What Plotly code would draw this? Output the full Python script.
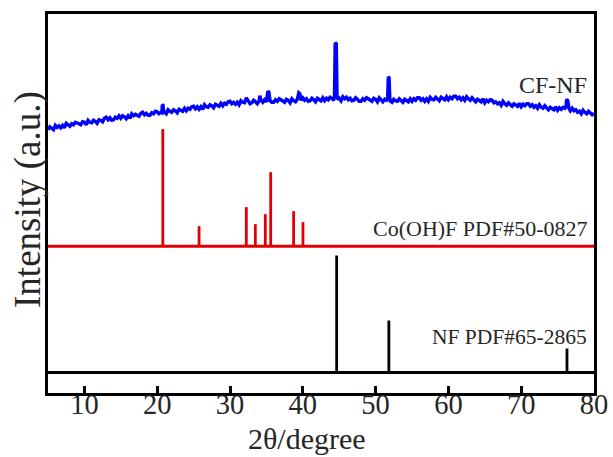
import plotly.graph_objects as go

# ---------------- data ----------------
# CF-NF measured pattern (2theta in degrees, intensity in a.u. incl. stacking offset)
cf_nf_2theta = [
    5.0, 5.25, 5.5, 5.75,
    6.0, 6.25, 6.5, 6.75,
    7.0, 7.25, 7.5, 7.75,
    8.0, 8.25, 8.5, 8.75,
    9.0, 9.25, 9.5, 9.75,
    10.0, 10.25, 10.5, 10.75,
    11.0, 11.25, 11.5, 11.75,
    12.0, 12.25, 12.5, 12.75,
    13.0, 13.25, 13.5, 13.75,
    14.0, 14.25, 14.5, 14.75,
    15.0, 15.25, 15.5, 15.75,
    16.0, 16.25, 16.5, 16.75,
    17.0, 17.25, 17.5, 17.75,
    18.0, 18.25, 18.5, 18.75,
    19.0, 19.25, 19.5, 19.75,
    20.0, 20.25, 20.5, 20.65, 20.7, 20.8, 20.9,
    21.0, 21.25, 21.5, 21.75,
    22.0, 22.25, 22.5, 22.75,
    23.0, 23.25, 23.5, 23.75,
    24.0, 24.25, 24.5, 24.75,
    25.0, 25.25, 25.5, 25.75,
    26.0, 26.25, 26.5, 26.75,
    27.0, 27.25, 27.5, 27.75,
    28.0, 28.25, 28.5, 28.75,
    29.0, 29.25, 29.5, 29.75,
    30.0, 30.25, 30.5, 30.75,
    31.0, 31.25, 31.5, 31.75,
    32.0, 32.25, 32.35, 32.5, 32.75,
    33.0, 33.25, 33.5, 33.75,
    34.0, 34.1, 34.25, 34.5, 34.75,
    35.0, 35.2, 35.35, 35.5, 35.75,
    36.0, 36.25, 36.5, 36.75,
    37.0, 37.25, 37.5, 37.75,
    38.0, 38.25, 38.5, 38.75,
    39.0, 39.25, 39.45, 39.6, 39.75,
    40.0, 40.25, 40.5, 40.75,
    41.0, 41.25, 41.5, 41.75,
    42.0, 42.25, 42.5, 42.75,
    43.0, 43.25, 43.5, 43.75,
    44.0, 44.25, 44.35, 44.45, 44.6, 44.7, 44.85,
    45.0, 45.25, 45.5, 45.75,
    46.0, 46.25, 46.5, 46.75,
    47.0, 47.25, 47.5, 47.75,
    48.0, 48.25, 48.5, 48.75,
    49.0, 49.25, 49.5, 49.75,
    50.0, 50.25, 50.5, 50.75,
    51.0, 51.25, 51.5, 51.65, 51.75, 51.85, 51.95,
    52.0, 52.25, 52.5, 52.75,
    53.0, 53.25, 53.5, 53.75,
    54.0, 54.25, 54.5, 54.75,
    55.0, 55.25, 55.5, 55.75,
    56.0, 56.25, 56.5, 56.75,
    57.0, 57.25, 57.5, 57.75,
    58.0, 58.25, 58.5, 58.75,
    59.0, 59.25, 59.5, 59.75,
    60.0, 60.25, 60.5, 60.75,
    61.0, 61.25, 61.5, 61.75,
    62.0, 62.25, 62.5, 62.75,
    63.0, 63.25, 63.5, 63.75,
    64.0, 64.25, 64.5, 64.75,
    65.0, 65.25, 65.5, 65.75,
    66.0, 66.25, 66.5, 66.75,
    67.0, 67.25, 67.5, 67.75,
    68.0, 68.25, 68.5, 68.75,
    69.0, 69.25, 69.5, 69.75,
    70.0, 70.25, 70.5, 70.75,
    71.0, 71.25, 71.5, 71.75,
    72.0, 72.25, 72.5, 72.75,
    73.0, 73.25, 73.5, 73.75,
    74.0, 74.25, 74.5, 74.75,
    75.0, 75.25, 75.5, 75.75,
    76.0, 76.15, 76.25, 76.4, 76.55, 76.75,
    77.0, 77.25, 77.5, 77.75,
    78.0, 78.25, 78.5, 78.75,
    79.0, 79.25, 79.5, 79.75,
    80.0,
]
cf_nf_intensity = [
    263, 266, 264.5, 263,
    267.5, 265.5, 267, 265,
    267.5, 265, 269.5, 267.5,
    266.5, 269, 268, 270.5,
    270, 269, 268, 271,
    270.5, 268, 272.5, 270.5,
    270, 272.5, 271.5, 269.5,
    273, 272.5, 271, 274.5,
    275.5, 273, 275, 272.5,
    273, 275.5, 274.5, 277,
    274.5, 277, 276, 274,
    277, 274.5, 279, 277,
    278.5, 277.5, 276.5, 279.5,
    280.5, 278, 279.5, 277.5,
    277.5, 280, 279, 281.5,
    281, 279, 280.5, 280, 288, 287.5, 281,
    281, 279, 283, 281.5,
    280.5, 283, 282, 280,
    283.5, 282.5, 281.5, 284.5,
    282, 284.5, 283.5, 286,
    286.5, 284, 286, 283.5,
    286, 283.5, 288, 286,
    285.5, 288, 287, 285,
    288.5, 287.5, 286.5, 289.5,
    287, 289.5, 288.5, 291,
    291.5, 289, 290.5, 288.5,
    290.5, 288, 292, 290.5,
    290, 295, 294, 291.5, 289,
    290, 292.5, 291, 289,
    292, 297, 292.5, 290.5, 293,
    291, 301.5, 300.5, 292, 290.5,
    290.5, 293, 291.5, 294,
    293, 292, 290.5, 293.5,
    292.5, 290, 294, 292,
    291, 293.5, 300, 299, 292.5,
    295, 292.5, 294, 291.5,
    292, 294.5, 293, 291,
    294.5, 293.5, 292, 295,
    292, 294.5, 293, 295.5,
    294.5, 292.5, 296, 350, 349, 297, 293,
    294.5, 292, 296, 294,
    295.5, 293, 294.5, 292,
    292.5, 295, 293.5, 291.5,
    291.5, 294, 292.5, 295,
    294, 293, 291.5, 294.5,
    293.5, 291, 295, 293,
    291, 293.5, 292.5, 294, 316, 315, 295,
    292, 290.5, 293.5, 292,
    291.5, 294, 292.5, 290.5,
    293.5, 292.5, 291, 294,
    291.5, 294, 292.5, 295,
    295, 292.5, 294, 291.5,
    294, 291.5, 295.5, 293.5,
    293, 295.5, 294, 292,
    295.5, 294.5, 293, 296,
    293, 295.5, 294, 296.5,
    296.5, 294, 295.5, 293,
    295, 292.5, 296, 294,
    292.5, 295, 293, 291,
    293.5, 292.5, 291, 294,
    290, 292.5, 291, 293,
    292.5, 290, 291, 289,
    290, 287.5, 291.5, 289,
    287.5, 290, 288.5, 286.5,
    289, 288, 286.5, 289.5,
    286, 288.5, 287, 289,
    289, 286.5, 288, 285.5,
    287, 284.5, 288, 285.5,
    284.5, 287, 285, 283,
    285.5, 284.5, 283, 286,
    282.5, 285, 283.5, 285.5,
    284.5, 286, 293.5, 292, 284.5, 282,
    284.5, 282, 283, 280.5,
    281.5, 279, 282.5, 280.5,
    279, 281.5, 280, 278,
    279.5,
]
assert len(cf_nf_2theta) == len(cf_nf_intensity)

# Co(OH)F reference card PDF#50-0827
cooh_f_2theta = [20.77, 25.75, 32.24, 33.48, 34.85, 35.59, 38.74, 40.02]
cooh_f_intensity = [117, 20, 39, 22, 32, 74, 35, 24]
cooh_f_offset = 146.7

# Ni reference card PDF#65-2865
nf_2theta = [44.65, 51.82, 76.29]
nf_intensity = [117, 52, 24]
nf_offset = 20.4

x_ticks = [10, 20, 30, 40, 50, 60, 70, 80]

# ---------------- figure ----------------
FONT = "Liberation Serif"
TXT = "#262626"
fig = go.Figure()

fig.add_trace(go.Scatter(x=cf_nf_2theta, y=cf_nf_intensity, mode="lines",
                         line=dict(color="#0000FF", width=3.4), hoverinfo="skip"))


def stick_trace(xs, hs, base, color, width):
    sx, sy = [], []
    for x, h in zip(xs, hs):
        sx += [x, x, None]
        sy += [base, base + h, None]
    return go.Scatter(x=sx, y=sy, mode="lines", line=dict(color=color, width=width),
                      hoverinfo="skip")


fig.add_trace(go.Scatter(x=[5, 80], y=[cooh_f_offset, cooh_f_offset], mode="lines",
                         line=dict(color="#E00000", width=3), hoverinfo="skip"))
fig.add_trace(stick_trace(cooh_f_2theta, cooh_f_intensity, cooh_f_offset, "#E00000", 2.8))
fig.add_trace(go.Scatter(x=[5, 80], y=[nf_offset, nf_offset], mode="lines",
                         line=dict(color="#000000", width=3), hoverinfo="skip"))
fig.add_trace(stick_trace(nf_2theta, nf_intensity, nf_offset, "#000000", 2.8))

fig.add_annotation(text="CF-NF", x=0.99, y=308, xref="paper", yref="y",
                   xanchor="right", yanchor="middle", showarrow=False,
                   font=dict(family=FONT, size=24, color=TXT))
fig.add_annotation(text="Co(OH)F PDF#50-0827", x=0.993, y=cooh_f_offset + 3,
                   xref="paper", yref="y", xanchor="right", yanchor="bottom",
                   showarrow=False, font=dict(family=FONT, size=22, color=TXT))
fig.add_annotation(text="NF PDF#65-2865", x=0.99, y=56, xref="paper", yref="y",
                   xanchor="right", yanchor="middle", showarrow=False,
                   font=dict(family=FONT, size=21.5, color=TXT))

# axis titles
fig.add_annotation(text="2θ/degree", x=0.474, y=-0.1205, xref="paper", yref="paper",
                   xanchor="center", yanchor="middle", showarrow=False,
                   font=dict(family=FONT, size=30, color=TXT))
fig.add_annotation(text="Intensity (a.u.)", x=-0.038, y=0.51, xref="paper", yref="paper",
                   xanchor="center", yanchor="middle", showarrow=False, textangle=-90,
                   font=dict(family=FONT, size=37, color=TXT))

fig.update_layout(
    width=613, height=457,
    margin=dict(l=48, r=19, t=14, b=64),
    plot_bgcolor="white", paper_bgcolor="white",
    showlegend=False,
    font=dict(family=FONT, color=TXT),
)
fig.update_xaxes(
    range=[5, 80], tickvals=x_ticks, ticks="inside", ticklen=7, tickwidth=2.5,
    tickcolor="black", showline=True, linecolor="black", linewidth=3, mirror=True,
    showgrid=False, zeroline=False, automargin=False, ticklabelstandoff=-16,
    tickfont=dict(family=FONT, size=28.5, color=TXT),
)
fig.update_yaxes(
    range=[0, 378.7], showticklabels=False, ticks="", showline=True, linecolor="black",
    linewidth=3, mirror=True, showgrid=False, zeroline=False, automargin=False,
)

fig.write_html("out.html")
